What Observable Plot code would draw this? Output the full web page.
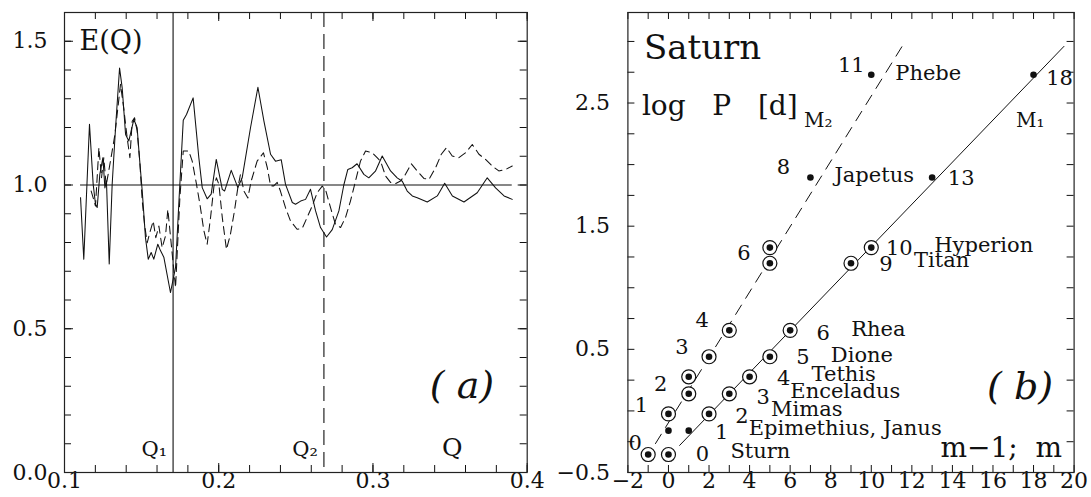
<!DOCTYPE html>
<html>
<head>
<meta charset="utf-8">
<script src="https://cdn.jsdelivr.net/npm/d3@7"></script>
<script src="https://cdn.jsdelivr.net/npm/@observablehq/plot@0.6"></script>
<style>
  html, body { margin: 0; padding: 0; background: #fff; }
  #wrap { display: flex; width: 1091px; height: 497px; overflow: hidden; }
  #wrap svg { display: block; flex: none; }
</style>
</head>
<body>
<div id="wrap"></div>
<script>
// ---------- Panel (a): E(Q) ----------
const solidQ = [0.1104,0.1125,0.1162,0.1186,0.1201,0.1212,0.1229,0.1249,0.1262,0.1272,0.1290,0.1309,0.1331,0.1357,0.1374,0.1396,0.1417,0.1432,0.1450,0.1471,0.1486,0.1504,0.1525,0.1543,0.1562,0.1579,0.1605,0.1623,0.1644,0.1687,0.1720,0.1741,0.1770,0.1791,0.1834,0.1871,0.1893,0.1925,0.1951,0.1984,0.2023,0.2038,0.2081,0.2124,0.2152,0.2206,0.2254,0.2293,0.2336,0.2368,0.2405,0.2433,0.2477,0.2498,0.2531,0.2563,0.2595,0.2628,0.2660,0.2699,0.2736,0.2779,0.2811,0.2837,0.2865,0.2897,0.2941,0.2973,0.3016,0.3060,0.3114,0.3157,0.3190,0.3222,0.3255,0.3287,0.3352,0.3417,0.3465,0.3515,0.3590,0.3676,0.3741,0.3795,0.3850,0.3903];
const solidE = [0.956,0.742,1.211,1.002,0.933,0.922,1.037,1.095,0.990,1.014,0.725,1.002,1.199,1.407,1.338,1.176,1.153,1.188,1.228,1.199,1.095,0.979,0.817,0.742,0.765,0.742,0.794,0.771,0.749,0.626,0.713,0.933,1.225,1.245,1.303,1.095,0.991,0.952,0.968,1.089,0.985,0.979,1.051,0.991,1.025,1.199,1.340,1.222,1.107,1.083,1.088,1.002,0.939,0.933,0.944,0.950,0.985,0.910,0.852,0.819,0.845,0.910,1.000,1.054,1.060,1.074,1.037,1.025,1.048,1.101,1.049,1.025,1.013,0.979,0.962,0.956,0.941,0.962,1.006,0.962,0.941,0.973,1.025,0.990,0.962,0.950];
const dashQ = [0.1173,0.1201,0.1223,0.1240,0.1255,0.1270,0.1283,0.1309,0.1327,0.1363,0.1385,0.1406,0.1424,0.1439,0.1454,0.1471,0.1488,0.1504,0.1519,0.1536,0.1553,0.1575,0.1592,0.1612,0.1633,0.1655,0.1670,0.1720,0.1748,0.1770,0.1806,0.1828,0.1856,0.1878,0.1904,0.1925,0.1947,0.1969,0.1985,0.2001,0.2023,0.2050,0.2076,0.2102,0.2124,0.2141,0.2163,0.2189,0.2210,0.2249,0.2290,0.2315,0.2336,0.2357,0.2379,0.2400,0.2433,0.2465,0.2508,0.2541,0.2573,0.2606,0.2638,0.2671,0.2692,0.2725,0.2757,0.2790,0.2822,0.2854,0.2887,0.2919,0.2952,0.2995,0.3027,0.3049,0.3082,0.3114,0.3147,0.3179,0.3211,0.3248,0.3287,0.3330,0.3363,0.3406,0.3443,0.3477,0.3514,0.3557,0.3600,0.3644,0.3687,0.3730,0.3773,0.3816,0.3860,0.3903];
const dashE = [0.979,0.927,1.130,1.025,1.095,0.998,1.037,1.118,1.176,1.350,1.263,1.165,1.095,1.222,1.234,1.188,1.083,0.944,0.863,0.799,0.834,0.875,0.817,0.857,0.782,0.823,0.915,0.643,0.955,1.118,1.118,1.083,1.002,0.933,0.840,0.794,0.887,0.996,1.025,1.002,0.887,0.776,0.829,0.910,0.991,1.037,0.979,0.955,1.013,1.083,1.112,1.060,0.997,0.997,1.009,0.979,0.921,0.875,0.846,0.849,0.887,0.927,0.973,0.996,0.985,0.921,0.863,0.852,0.887,0.944,1.014,1.083,1.118,1.112,1.095,1.083,1.031,1.009,1.005,1.014,1.037,1.074,1.049,1.023,1.019,1.060,1.107,1.130,1.101,1.095,1.112,1.141,1.107,1.089,1.066,1.049,1.054,1.066];
const qMarkers = [0.1704, 0.2682];          // Q1 (solid), Q2 (dashed)
const qMarkerLabels = ["Q\u2081", "Q\u2082"];
const refLevel = [1.0];
const aXTickLabels = [0.1, 0.2, 0.3, 0.4];
const aYTickLabels = [0.0, 0.5, 1.0, 1.5];

// ---------- Panel (b): Saturn ----------
const moonNames = ["Sturn", "Epimethius, Janus", "Mimas", "Enceladus", "Tethis", "Dione", "Rhea", "Titan", "Hyperion", "Japetus", "Phebe"];
const logP      = [-0.354, -0.160, -0.024, 0.139, 0.277, 0.440, 0.654, 1.199, 1.326, 1.895, 2.730];
const mM1       = [0, 1, 2, 3, 4, 5, 6, 9, 10, 13, 18];   // plotted at m
const mM2       = [0, 1, 1, 2, 2, 3, 4, 6, 6, 8, 11];     // plotted at m-1
const ringed    = [true, false, true, true, true, true, true, true, true, false, false];
const lineM1x = [0.55, 19.5], lineM1y = [-0.28, 2.96];
const lineM2x = [-0.64, 11.67], lineM2y = [-0.265, 3.0];
const bXTickLabels = [-2, 0, 2, 4, 6, 8, 10, 12, 14, 16, 18, 20];
const bYTickLabels = [-0.5, 0.5, 1.5, 2.5];

const FONT = "'DejaVu Serif', serif";
const INK = "#111";
const TICKFONT = 22;

// inward ticks on all four sides, built from tick values
function frameTicks(xs, ys, innerW, innerH, len) {
  return [
    Plot.ruleX(xs, {x: d => d, insetTop: innerH - len, stroke: INK}),
    Plot.ruleX(xs, {x: d => d, insetBottom: innerH - len, stroke: INK}),
    Plot.ruleY(ys, {y: d => d, insetRight: innerW - len, stroke: INK}),
    Plot.ruleY(ys, {y: d => d, insetLeft: innerW - len, stroke: INK})
  ];
}
// tick labels drawn as text through the scales
function tickLabels(xs, ys, fmtX, fmtY, padY) {
  return [
    Plot.text(xs, {x: d => d, frameAnchor: "bottom", lineAnchor: "top", text: fmtX, dy: 0, fontSize: TICKFONT, textAnchor: "middle"}),
    Plot.text(ys, {y: d => d, frameAnchor: "left", lineAnchor: "middle", text: fmtY, dx: -padY, fontSize: TICKFONT, textAnchor: "end"})
  ];
}
const fmt1 = d3.format(".1f");
const fmt0 = d3.format("d");

// ----- panel a -----
const A = {w: 545, h: 497, ml: 64, mr: 18.3, mt: 12, mb: 25};
const aInnerW = A.w - A.ml - A.mr, aInnerH = A.h - A.mt - A.mb;
const solid = solidQ.map((q, i) => ({q, e: solidE[i]}));
const dashed = dashQ.map((q, i) => ({q, e: dashE[i]}));
const aXminor = d3.range(0, 16).map(i => +(0.1 + i * 0.02).toFixed(3));
const aYminor = d3.range(0, 17).map(i => +(i * 0.1).toFixed(2));

const plotA = Plot.plot({
  width: A.w, height: A.h,
  marginLeft: A.ml, marginRight: A.mr, marginTop: A.mt, marginBottom: A.mb,
  style: {fontFamily: FONT, fontSize: "21px", color: INK, background: "#fff"},
  x: {domain: [0.1, 0.4], axis: null},
  y: {domain: [0, 1.6], axis: null},
  marks: [
    ...frameTicks(aXminor, aYminor, aInnerW, aInnerH, 7),
    ...frameTicks(aXTickLabels, aYTickLabels, aInnerW, aInnerH, 9),
    ...tickLabels(aXTickLabels, aYTickLabels, fmt1, fmt1, 17),
    Plot.ruleY(refLevel, {y: d => d, x1: d3.min(solidQ), x2: d3.max(solidQ), stroke: INK, strokeWidth: 1.1}),
    Plot.ruleX([qMarkers[0]], {x: d => d, stroke: INK, strokeWidth: 1.1}),
    Plot.ruleX([qMarkers[1]], {x: d => d, stroke: INK, strokeWidth: 1.1, strokeDasharray: "15,7"}),
    Plot.line(dashed, {x: "q", y: "e", stroke: INK, strokeWidth: 1.05, strokeDasharray: "8,5"}),
    Plot.line(solid, {x: "q", y: "e", stroke: INK, strokeWidth: 1.05}),
    Plot.text(qMarkers, {x: d => d, frameAnchor: "bottom", lineAnchor: "middle", text: (d, i) => qMarkerLabels[i], textAnchor: "end", dx: -6, dy: -23, fontSize: 21}),
    Plot.text(["Q"], {frameAnchor: "bottom-right", lineAnchor: "middle", text: d => d, textAnchor: "middle", dx: -75, dy: -25, fontSize: 25}),
    Plot.text(["E(Q)"], {frameAnchor: "top-left", lineAnchor: "middle", text: d => d, textAnchor: "start", dx: 15, dy: 29, fontSize: 27}),
    Plot.text(["( a)"], {frameAnchor: "bottom-right", lineAnchor: "middle", text: d => d, textAnchor: "end", dx: -33, dy: -87, fontSize: 38, fontStyle: "italic"}),
    Plot.frame({stroke: "#222", strokeWidth: 1.2})
  ]
});

// ----- panel b -----
const B = {w: 546, h: 497, ml: 82.4, mr: 17.4, mt: 12, mb: 25};
const bInnerW = B.w - B.ml - B.mr, bInnerH = B.h - B.mt - B.mb;
const pts = moonNames.map((name, i) => ({name, logP: logP[i], x1: mM1[i], x2: mM2[i] - 1, ringed: ringed[i], i}));
const bXminor = d3.range(-2, 21);
const bYminor = d3.range(0, 15).map(i => -0.5 + i * 0.25);
const fitM1 = lineM1x.map((x, i) => ({x, y: lineM1y[i]}));
const fitM2 = lineM2x.map((x, i) => ({x, y: lineM2y[i]}));

// label layout (pixel offsets from each point)
const numM1Layout = [[34,0],[33,2],[33,2],[34,3],[34,1],[33,1],[33,3],[35,1],[28,1],[29,1],[26,4]];
const nameLayout = {0:["x1",62,-3],1:["x1",60,-2],2:["x1",62,-5],3:["x1",61,-3],4:["x1",62,-3],5:["x1",61,-1],6:["x1",61,-1],7:["x1",63,-3],8:["x1",63,-2],9:["x2",24,-2],10:["x2",24,-1]};
const numM2Layout = {0:[-13,-11],2:[-27,-9],4:[-28,7],5:[-27,-9],6:[-27,-10],8:[-26,6],9:[-27,-10],10:[-20,-9]};

const labelMarks = [];
pts.forEach((p, i) => {
  const [dx, dy] = numM1Layout[i];
  labelMarks.push(Plot.text([p], {x: "x1", y: "logP", text: d => String(mM1[d.i]), dx, dy, textAnchor: "middle", fontSize: 21}));
  const [key, ndx, ndy] = nameLayout[i];
  labelMarks.push(Plot.text([p], {x: key, y: "logP", text: "name", dx: ndx, dy: ndy, textAnchor: "start", fontSize: 21}));
  if (numM2Layout[i]) {
    const [mdx, mdy] = numM2Layout[i];
    labelMarks.push(Plot.text([p], {x: "x2", y: "logP", text: d => String(mM2[d.i]), dx: mdx, dy: mdy, textAnchor: "middle", fontSize: 21}));
  }
});

const plotB = Plot.plot({
  width: B.w, height: B.h,
  marginLeft: B.ml, marginRight: B.mr, marginTop: B.mt, marginBottom: B.mb,
  style: {fontFamily: FONT, fontSize: "21px", color: INK, background: "#fff"},
  x: {domain: [-2, 20], axis: null},
  y: {domain: [-0.5, 3.235], axis: null},
  marks: [
    ...frameTicks(bXminor, bYminor, bInnerW, bInnerH, 7),
    ...tickLabels(bXTickLabels, bYTickLabels, d => fmt0(d), fmt1, 18),
    Plot.line(fitM2, {x: "x", y: "y", stroke: INK, strokeWidth: 1, strokeDasharray: "11,8"}),
    Plot.line(fitM1, {x: "x", y: "y", stroke: INK, strokeWidth: 1}),
    Plot.dot(pts.filter(d => d.ringed), {x: "x1", y: "logP", r: 7, stroke: INK, strokeWidth: 1.2, fill: "#fff"}),
    Plot.dot(pts.filter(d => d.ringed), {x: "x2", y: "logP", r: 7, stroke: INK, strokeWidth: 1.2, fill: "#fff"}),
    Plot.dot(pts, {x: "x1", y: "logP", r: 3.3, fill: INK, stroke: "none"}),
    Plot.dot(pts, {x: "x2", y: "logP", r: 3.3, fill: INK, stroke: "none"}),
    ...labelMarks,
    Plot.text(["Saturn"], {frameAnchor: "top-left", lineAnchor: "middle", text: d => d, textAnchor: "start", dx: 16, dy: 36, fontSize: 34}),
    Plot.text(["log\u00a0\u00a0\u00a0P\u00a0\u00a0\u00a0[d]"], {frameAnchor: "top-left", lineAnchor: "middle", text: d => d, textAnchor: "start", dx: 14, dy: 94, fontSize: 28}),
    Plot.text(["M\u2082"], {frameAnchor: "top-left", lineAnchor: "middle", text: d => d, textAnchor: "start", dx: 176, dy: 108, fontSize: 20}),
    Plot.text(["M\u2081"], {frameAnchor: "top-right", lineAnchor: "middle", text: d => d, textAnchor: "start", dx: -58, dy: 108, fontSize: 20}),
    Plot.text(["m\u22121;\u00a0\u00a0m"], {frameAnchor: "bottom-right", lineAnchor: "middle", text: d => d, textAnchor: "end", dx: -12, dy: -24, fontSize: 28}),
    Plot.text(["( b)"], {frameAnchor: "bottom-right", lineAnchor: "middle", text: d => d, textAnchor: "end", dx: -21, dy: -86, fontSize: 38, fontStyle: "italic"}),
    Plot.frame({stroke: "#222", strokeWidth: 1.2})
  ]
});

document.getElementById("wrap").append(plotA, plotB);
</script>
</body>
</html>
